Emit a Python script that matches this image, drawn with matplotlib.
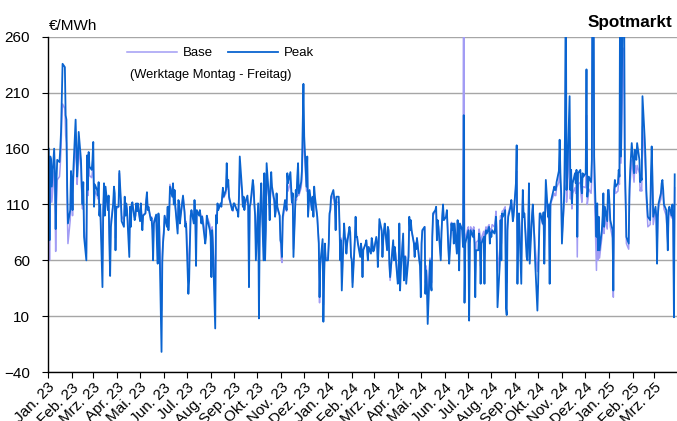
import numpy as np
import pandas as pd
import matplotlib
matplotlib.use("Agg")
import matplotlib.pyplot as plt

plt.rcParams['font.family'] = ['Liberation Sans', 'DejaVu Sans']

# daily spot prices (weekdays), EUR/MWh, one list per month
peak_2023 = [
    [160, 78, 153, 150, 126, 160, 140, 88, 130, 150, 148, 160, 175, 207, 236, 233, 190, 186, 126, 93, 105, 140],
    [130, 105, 140, 186, 160, 135, 150, 175, 150, 126, 110, 130, 81, 60, 154, 123, 157, 144, 141, 150],
    [166, 108, 128, 123, 118, 130, 100, 110, 36, 105, 129, 100, 126, 105, 118, 75, 46, 90, 111, 126, 120, 69, 108],
    [108, 140, 126, 114, 95, 90, 117, 100, 111, 105, 63, 108, 90, 110, 112, 96, 100, 111, 104, 111],
    [95, 111, 99, 87, 100, 102, 114, 121, 105, 108, 96, 98, 87, 60, 93, 101, 75, 57, 102, 90, -22, 58, 76],
    [84, 100, 90, 108, 87, 100, 126, 117, 129, 110, 123, 108, 84, 114, 112, 93, 100, 118, 110, 103, 90, 93],
    [30, 42, 75, 100, 105, 93, 114, 99, 55, 105, 100, 105, 99, 93, 99, 81, 75, 81, 100, 96, 87],
    [81, 45, 87, 72, -1, 100, 93, 111, 105, 111, 108, 117, 125, 117, 123, 147, 126, 132, 117, 108, 105, 105, 111],
    [111, 105, 105, 99, 118, 153, 123, 108, 117, 105, 112, 118, 108, 36, 108, 111, 132, 126, 111, 100, 60],
    [111, 8, 87, 111, 129, 60, 138, 60, 87, 147, 117, 96, 126, 139, 126, 114, 99, 105, 120, 108, 100, 78],
    [75, 63, 99, 114, 111, 105, 138, 129, 139, 126, 112, 120, 63, 123, 117, 135, 147, 120, 130, 140, 177, 218],
    [171, 126, 153, 99, 111, 123, 105, 117, 99, 126, 117, 99, 87, 75, 27, 57, 79, 5, 45, 75, 60],
]
base_2023 = [
    [130, 60, 128, 130, 112, 140, 120, 68, 110, 132, 135, 145, 160, 185, 200, 196, 172, 165, 110, 75, 96, 125],
    [122, 100, 132, 165, 150, 128, 142, 160, 142, 120, 106, 122, 88, 66, 142, 118, 145, 136, 134, 140],
    [150, 112, 122, 118, 115, 125, 102, 108, 60, 106, 122, 104, 120, 106, 114, 85, 62, 95, 110, 120, 116, 80, 106],
    [108, 138, 122, 112, 100, 95, 113, 102, 110, 106, 75, 106, 95, 108, 110, 98, 100, 108, 104, 108],
    [96, 110, 100, 90, 101, 102, 112, 118, 106, 106, 98, 99, 90, 68, 95, 100, 80, 64, 100, 92, 15, 65, 80],
    [88, 100, 92, 106, 90, 102, 128, 120, 127, 112, 122, 108, 88, 113, 112, 96, 101, 117, 110, 104, 92, 95],
    [55, 60, 82, 100, 104, 96, 110, 100, 70, 104, 102, 104, 100, 96, 100, 88, 82, 86, 100, 98, 92],
    [85, 60, 90, 80, 20, 101, 95, 110, 106, 110, 108, 116, 122, 116, 120, 138, 124, 128, 115, 108, 106, 104, 110],
    [110, 106, 104, 100, 115, 140, 120, 108, 115, 106, 110, 115, 108, 60, 108, 110, 125, 122, 110, 100, 75],
    [110, 40, 90, 108, 122, 72, 130, 72, 92, 138, 115, 100, 122, 130, 122, 112, 100, 104, 116, 106, 100, 82],
    [62, 58, 95, 110, 108, 104, 128, 122, 130, 120, 110, 115, 70, 118, 114, 128, 138, 118, 125, 132, 155, 168],
    [160, 122, 145, 100, 110, 118, 106, 115, 100, 120, 114, 100, 88, 76, 22, 55, 75, 20, 50, 72, 62],
]
peak_2024 = [
    [60, 75, 102, 105, 117, 123, 117, 111, 87, 117, 117, 93, 60, 78, 33, 93, 81, 78, 66, 75, 90, 85, 63],
    [60, 36, 78, 99, 81, 81, 75, 63, 75, 69, 45, 69, 75, 78, 70, 60, 72, 66, 80, 75, 68],
    [69, 81, 75, 54, 72, 97, 87, 63, 78, 87, 93, 69, 90, 87, 57, 45, 70, 78, 60, 72, 65],
    [39, 45, 93, 33, 51, 84, 42, 63, 63, 39, 63, 99, 87, 96, 87, 75, 63, 75, 70, 80, 60, 55],
    [27, 75, 87, 90, 30, 51, 36, 3, 60, 39, 33, 81, 102, 105, 108, 78, 96, 90, 60, 85, 100, 110, 96],
    [99, 105, 87, 69, 57, 93, 87, 93, 75, 93, 66, 96, 81, 51, 93, 87, 72, 190, 22, 75],
    [84, 87, 6, 75, 87, 81, 87, 75, 27, 69, 69, 84, 78, 39, 75, 81, 39, 81, 87, 84, 90, 75, 85],
    [81, 87, 84, 90, 99, 78, 18, 57, 96, 60, 102, 99, 105, 18, 11, 87, 99, 108, 114, 104, 95, 100],
    [129, 163, 39, 87, 102, 39, 93, 123, 99, 102, 63, 60, 87, 129, 57, 100, 110, 96, 80, 60, 15],
    [39, 75, 102, 102, 93, 103, 57, 99, 132, 99, 110, 39, 111, 114, 123, 126, 123, 123, 130, 140, 168, 138, 120],
    [75, 120, 177, 320, 123, 135, 207, 123, 141, 111, 129, 138, 129, 141, 81, 138, 141, 126, 120, 138, 135],
    [138, 231, 117, 123, 135, 130, 150, 400, 380, 153, 81, 111, 69, 99, 69, 87, 99, 120, 90, 108, 95, 123],
]
base_2024 = [
    [62, 76, 100, 104, 114, 118, 114, 108, 88, 112, 112, 92, 64, 80, 42, 92, 82, 80, 70, 78, 88, 84, 66],
    [62, 40, 78, 96, 82, 80, 76, 66, 74, 70, 48, 70, 74, 77, 70, 62, 72, 67, 78, 74, 68],
    [70, 80, 76, 58, 72, 92, 86, 66, 78, 86, 90, 70, 88, 86, 60, 42, 70, 76, 62, 72, 66],
    [42, 48, 90, 40, 55, 82, 48, 64, 64, 45, 64, 96, 88, 94, 86, 76, 64, 76, 72, 80, 62, 58],
    [40, 76, 86, 90, 40, 55, 45, 20, 62, 48, 40, 82, 100, 104, 106, 80, 95, 90, 64, 86, 98, 108, 96],
    [100, 104, 90, 72, 64, 94, 88, 92, 78, 92, 70, 95, 82, 60, 92, 88, 76, 420, 60, 80],
    [88, 90, 40, 80, 90, 86, 90, 82, 45, 76, 78, 88, 84, 55, 80, 86, 58, 86, 90, 88, 92, 82, 88],
    [88, 92, 90, 96, 104, 90, 50, 70, 100, 75, 104, 104, 108, 50, 40, 92, 102, 110, 114, 106, 100, 104],
    [125, 140, 60, 90, 102, 60, 94, 118, 100, 102, 72, 70, 90, 122, 70, 100, 108, 96, 84, 72, 50],
    [60, 78, 100, 100, 92, 100, 65, 98, 120, 98, 106, 55, 108, 112, 118, 120, 118, 118, 125, 130, 145, 128, 115],
    [80, 112, 150, 240, 112, 122, 170, 115, 128, 106, 120, 125, 120, 128, 63, 128, 130, 118, 112, 125, 126],
    [125, 190, 110, 115, 124, 120, 135, 330, 310, 130, 51, 90, 60, 85, 62, 80, 90, 105, 84, 98, 88, 110],
]
peak_2025 = [
    [123, 111, 96, 87, 33, 123, 132, 126, 129, 141, 135, 350, 153, 330, 300, 147, 117, 81, 75, 123, 141, 153, 165],
    [138, 159, 153, 150, 165, 150, 130, 135, 132, 207, 168, 150, 123, 110, 99, 96, 135, 162, 135, 99],
    [108, 99, 57, 99, 111, 120, 129, 132, 123, 110, 105, 90, 69, 105, 108, 100, 110, 95, 9, 137],
]
base_2025 = [
    [112, 105, 90, 80, 27, 115, 125, 120, 122, 132, 128, 260, 147, 250, 220, 135, 110, 75, 70, 115, 130, 140, 150],
    [130, 145, 140, 138, 145, 138, 122, 125, 122, 180, 150, 140, 115, 104, 90, 92, 125, 145, 125, 92],
    [105, 98, 70, 98, 108, 115, 122, 125, 118, 106, 100, 88, 75, 100, 104, 98, 104, 92, 30, 125],
]

month_names = ['Jan.', 'Feb.', 'Mrz.', 'Apr.', 'Mai.', 'Jun.', 'Jul.', 'Aug.', 'Sep.', 'Okt.', 'Nov.', 'Dez.']


def to_series(years):
    dates, vals = [], []
    for year, months in years:
        for m, month_vals in enumerate(months):
            start = pd.Timestamp(year=year, month=m + 1, day=1)
            days = pd.bdate_range(start, start + pd.offsets.MonthEnd(0))
            dates.extend(days[:len(month_vals)])
            vals.extend(month_vals)
    return pd.Series(vals, index=pd.DatetimeIndex(dates))


peak = to_series([(2023, peak_2023), (2024, peak_2024), (2025, peak_2025)])
base = to_series([(2023, base_2023), (2024, base_2024), (2025, base_2025)])

fig = plt.figure(figsize=(6.77, 4.21), dpi=100)
ax = fig.add_axes([48 / 677, 1 - 372 / 421, 1 - 48 / 677, (372 - 37) / 421])

ax.plot(base.index, base.values, color='#a29cf4', lw=1.1, label='Base')
ax.plot(peak.index, peak.values, color='#0a64d0', lw=1.3, label='Peak')

ax.set_ylim(-40, 260)
ax.set_yticks(np.arange(-40, 261, 50))
ax.set_xlim(pd.Timestamp('2023-01-01'), pd.Timestamp('2025-03-31'))

ticks = pd.date_range('2023-01-01', '2025-03-01', freq='MS')
ax.set_xticks(ticks)
ax.set_xticklabels([f"{month_names[t.month - 1]} {t.year % 100}" for t in ticks],
                   rotation=45, ha='right', va='top', rotation_mode='anchor')

ax.grid(axis='y', color='#a6a6a6', lw=1.0)
ax.set_axisbelow(True)
for s in ['top', 'right']:
    ax.spines[s].set_visible(False)
ax.spines['left'].set_linewidth(1.0)
ax.spines['bottom'].set_linewidth(1.0)
ax.tick_params(axis='both', colors='black', direction='out')
ax.tick_params(axis='x', length=4, pad=2, labelsize=11)
ax.tick_params(axis='y', length=4, pad=9, labelsize=11)

ax.legend(loc='center', bbox_to_anchor=(0.326, 0.874), bbox_transform=fig.transFigure,
          ncol=2, frameon=False, fontsize=9.5, handlelength=3.8, columnspacing=1.1, handletextpad=0.45)
fig.text(211 / 677, 1 - 75 / 421, '(Werktage Montag - Freitag)', ha='center', va='center', fontsize=9.3)
fig.text(49 / 677, 1 - 26 / 421, '€/MWh', ha='left', va='center', fontsize=11)
fig.text(672 / 677, 1 - 22 / 421, 'Spotmarkt', ha='right', va='center', fontsize=12.3, fontweight='bold')

fig.savefig('out.png', dpi=100)
